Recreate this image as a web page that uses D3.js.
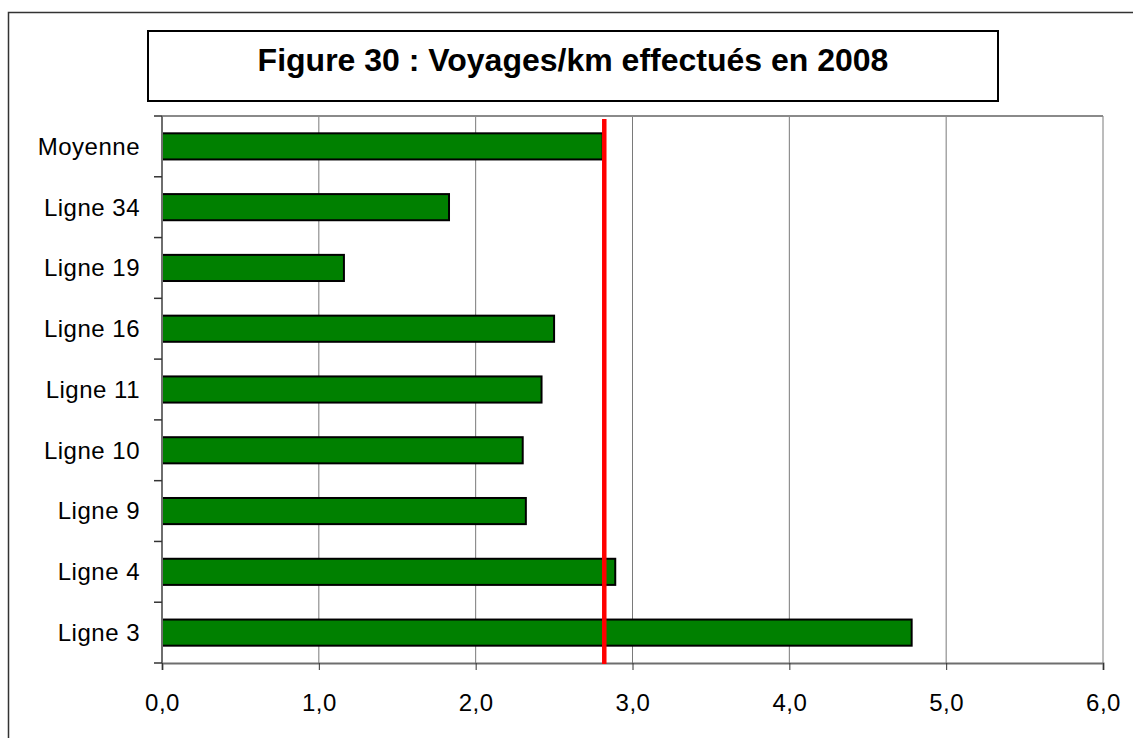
<!DOCTYPE html>
<html>
<head>
<meta charset="utf-8">
<script src="https://cdn.jsdelivr.net/npm/d3@7"></script>
<style>
  body { margin: 0; background: #fff; }
  text { font-family: Arial, "Liberation Sans", sans-serif; }
</style>
</head>
<body>
<svg id="chart" width="1133" height="738"></svg>
<script>
// data
var categories = ["Moyenne", "Ligne 34", "Ligne 19", "Ligne 16", "Ligne 11", "Ligne 10", "Ligne 9", "Ligne 4", "Ligne 3"];
var values     = [2.81, 1.83, 1.16, 2.50, 2.42, 2.30, 2.32, 2.89, 4.78];
var average    = 2.82;
var xTicks     = [0, 1, 2, 3, 4, 5, 6];
var title      = "Figure 30 : Voyages/km effectués en 2008";

var svg = d3.select("#chart");

// outer frame
svg.append("rect")
    .attr("x", 8.5).attr("y", 12.5)
    .attr("width", 1140).attr("height", 740)
    .attr("fill", "none").attr("stroke", "#333").attr("stroke-width", 1.5);

// title box
svg.append("rect")
    .attr("x", 148).attr("y", 31)
    .attr("width", 850).attr("height", 70)
    .attr("fill", "#fff").attr("stroke", "#000").attr("stroke-width", 2);

svg.append("text")
    .attr("x", 573).attr("y", 71)
    .attr("text-anchor", "middle")
    .style("font-size", "32px").style("font-weight", "bold")
    .text(title);

var plotLeft = 162, plotRight = 1103, plotTop = 116, plotBottom = 663;

var x = d3.scaleLinear().domain([0, 6]).range([plotLeft, plotRight]);
var y = d3.scaleBand().domain(categories).range([plotTop, plotBottom])
    .paddingInner(0.57).paddingOuter(0.285);

var g = svg.append("g");

// gridlines
g.selectAll("line.grid")
    .data(xTicks.slice(1))
    .enter()
    .append("line")
    .attr("class", "grid")
    .attr("x1", function (d) { return x(d); })
    .attr("x2", function (d) { return x(d); })
    .attr("y1", plotTop).attr("y2", plotBottom)
    .attr("stroke", "#7a7a7a").attr("stroke-width", 1);

// plot area top border
g.append("line")
    .attr("x1", plotLeft).attr("x2", plotRight)
    .attr("y1", plotTop).attr("y2", plotTop)
    .attr("stroke", "#8a8a8a").attr("stroke-width", 2);

// bars
g.selectAll("rect.bar")
    .data(values)
    .enter()
    .append("rect")
    .attr("class", "bar")
    .attr("x", x(0))
    .attr("y", function (d, i) { return y(categories[i]); })
    .attr("width", function (d) { return x(d) - x(0); })
    .attr("height", y.bandwidth())
    .attr("fill", "#008000")
    .attr("stroke", "#000")
    .attr("stroke-width", 2);

// x axis
var xAxis = d3.axisBottom(x)
    .tickValues(xTicks)
    .tickSize(7)
    .tickPadding(24)
    .tickFormat(function (d) { return d3.format(".1f")(d).replace(".", ","); });

var gx = svg.append("g")
    .attr("transform", "translate(0," + plotBottom + ")")
    .call(xAxis);
gx.attr("font-size", null).attr("font-family", null);
gx.select(".domain").attr("stroke", "#6e6e6e").attr("stroke-width", 2);
gx.selectAll(".tick line").attr("stroke", "#333");
gx.selectAll(".tick text")
    .style("font-size", "24px").style("letter-spacing", "0.5px")
    .attr("fill", "#000");

// y axis: ticks at band boundaries
var bounds = categories.map(function (c) { return y(c) - y.step() * y.paddingInner() / 2; });
bounds.push(plotBottom);

var gy = svg.append("g");
gy.append("line")
    .attr("x1", plotLeft).attr("x2", plotLeft)
    .attr("y1", plotTop).attr("y2", plotBottom)
    .attr("stroke", "#6e6e6e").attr("stroke-width", 2);
gy.selectAll("line.ytick")
    .data(bounds)
    .enter()
    .append("line")
    .attr("class", "ytick")
    .attr("x1", plotLeft - 8).attr("x2", plotLeft)
    .attr("y1", function (d) { return d; })
    .attr("y2", function (d) { return d; })
    .attr("stroke", "#333").attr("stroke-width", 1.5);
gy.selectAll("text")
    .data(categories)
    .enter()
    .append("text")
    .attr("x", 140)
    .attr("y", function (d) { return y(d) + y.bandwidth() / 2; })
    .attr("dy", "0.35em")
    .attr("text-anchor", "end")
    .style("font-size", "24px").style("letter-spacing", "0.5px")
    .text(function (d) { return d; });

// average line
svg.append("line")
    .attr("x1", x(average)).attr("x2", x(average))
    .attr("y1", plotTop + 3).attr("y2", plotBottom + 1)
    .attr("stroke", "#ff0000").attr("stroke-width", 4.5);
</script>
</body>
</html>
